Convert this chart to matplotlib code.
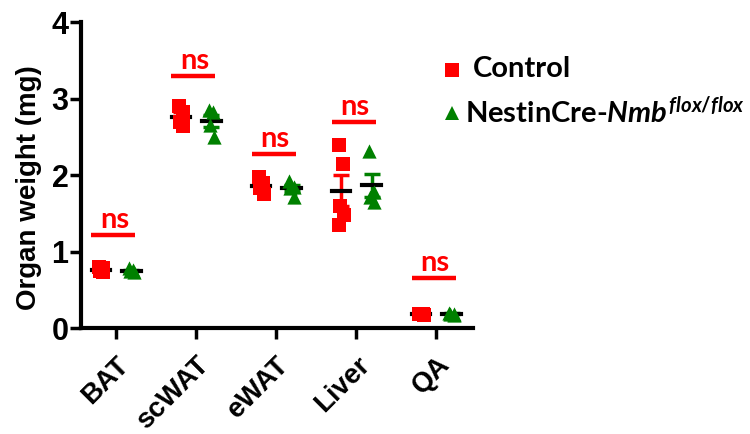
import numpy as np
import matplotlib
matplotlib.use("Agg")
import matplotlib.pyplot as plt
from matplotlib.lines import Line2D

plt.rcParams['font.family'] = ['Liberation Sans', 'DejaVu Sans']
plt.rcParams['font.weight'] = 'bold'
plt.rcParams['mathtext.fontset'] = 'custom'
plt.rcParams['mathtext.it'] = 'Lato:bold:italic'
plt.rcParams['mathtext.rm'] = 'Lato:bold'

## data

tissues = ["BAT", "scWAT", "eWAT", "Liver", "QA"]
control = [
    [0.80, 0.78, 0.75, 0.73],
    [2.90, 2.82, 2.70, 2.64],
    [1.97, 1.90, 1.83, 1.75],
    [2.40, 2.15, 1.60, 1.48, 1.35],
    [0.19, 0.18, 0.18, 0.17],
]
nestin = [
    [0.78, 0.76, 0.74, 0.73],
    [2.85, 2.82, 2.65, 2.50],
    [1.92, 1.85, 1.83, 1.72],
    [2.32, 1.78, 1.72, 1.65],
    [0.20, 0.19, 0.18, 0.17],
]
ns_heights = [1.22, 3.30, 2.28, 2.70, 0.65]
legend_labels = ["Control", r"NestinCre-$\mathit{Nmb}^{\mathit{flox/flox}}$"]

red = "#ff0000"
green = "#008000"
calibri_like = ["Lato", "DejaVu Sans"]

fig = plt.figure(figsize=(7.5, 4.34), dpi=100)
ax = fig.add_axes([0.108, 0.244, 0.523, 0.705])

jit = [-0.03, 0.025, -0.015, 0.03, -0.025]

def draw_group(i, vals, off, color, marker):
    xs = [i + off + jit[k % len(jit)] for k in range(len(vals))]
    m = np.mean(vals)
    sem = np.std(vals, ddof=1) / np.sqrt(len(vals))
    ax.errorbar(i + off, m, yerr=sem, color=color, capsize=6, capthick=2.5,
                elinewidth=2.5, zorder=2)
    ax.plot([i + off - 0.115, i + off + 0.115], [m, m], color="black", lw=3, zorder=2.5)
    ax.scatter(xs, vals, marker=marker, s=105, color=color, linewidths=0, zorder=3)

for i in range(len(tissues)):
    draw_group(i, control[i], -0.19, red, "s")
    draw_group(i, nestin[i], 0.19, green, "^")
    h = ns_heights[i]
    ax.plot([i - 0.31, i + 0.24], [h, h], color=red, lw=3.2, solid_capstyle="butt")
    ax.text(i - 0.02, h + 0.09, "ns", color=red, fontsize=21, fontweight="bold",
            family=calibri_like, ha="center", va="baseline")

ax.set_xlim(-0.44, 4.46)
ax.set_ylim(0, 4)
ax.set_yticks([0, 1, 2, 3, 4])
ax.set_yticklabels(["0", "1", "2", "3", "4"], fontsize=22, fontweight="bold")
ax.set_xticks(range(len(tissues)))
ax.set_xticklabels(tissues, rotation=45, ha="right", rotation_mode="anchor",
                   fontsize=20, fontweight="bold")
ax.set_ylabel("Organ weight (mg)", fontsize=20, fontweight="bold")
ax.yaxis.set_label_coords(-0.10, 0.46)
for s in ["top", "right"]:
    ax.spines[s].set_visible(False)
for s in ["left", "bottom"]:
    ax.spines[s].set_linewidth(3)
ax.tick_params(width=2.5, length=8)
ax.tick_params(axis="y", pad=1)
ax.tick_params(axis="x", pad=9)

# legend keys and labels
fig.add_artist(Line2D([452 / 750], [1 - 70 / 434], marker="s", color=red, ls="none",
                      markersize=9.5, markeredgewidth=0, transform=fig.transFigure))
fig.add_artist(Line2D([452 / 750], [1 - 113 / 434], marker="^", color=green, ls="none",
                      markersize=9.5, markeredgewidth=0, transform=fig.transFigure))
fig.text(473 / 750, 1 - 69 / 434, legend_labels[0], fontsize=21, fontweight="bold",
         family=calibri_like, va="center", ha="left")
fig.text(465 / 750, 1 - 112 / 434, legend_labels[1], fontsize=21, fontweight="bold",
         family=calibri_like, va="center", ha="left")

fig.savefig("out.png", dpi=100)
